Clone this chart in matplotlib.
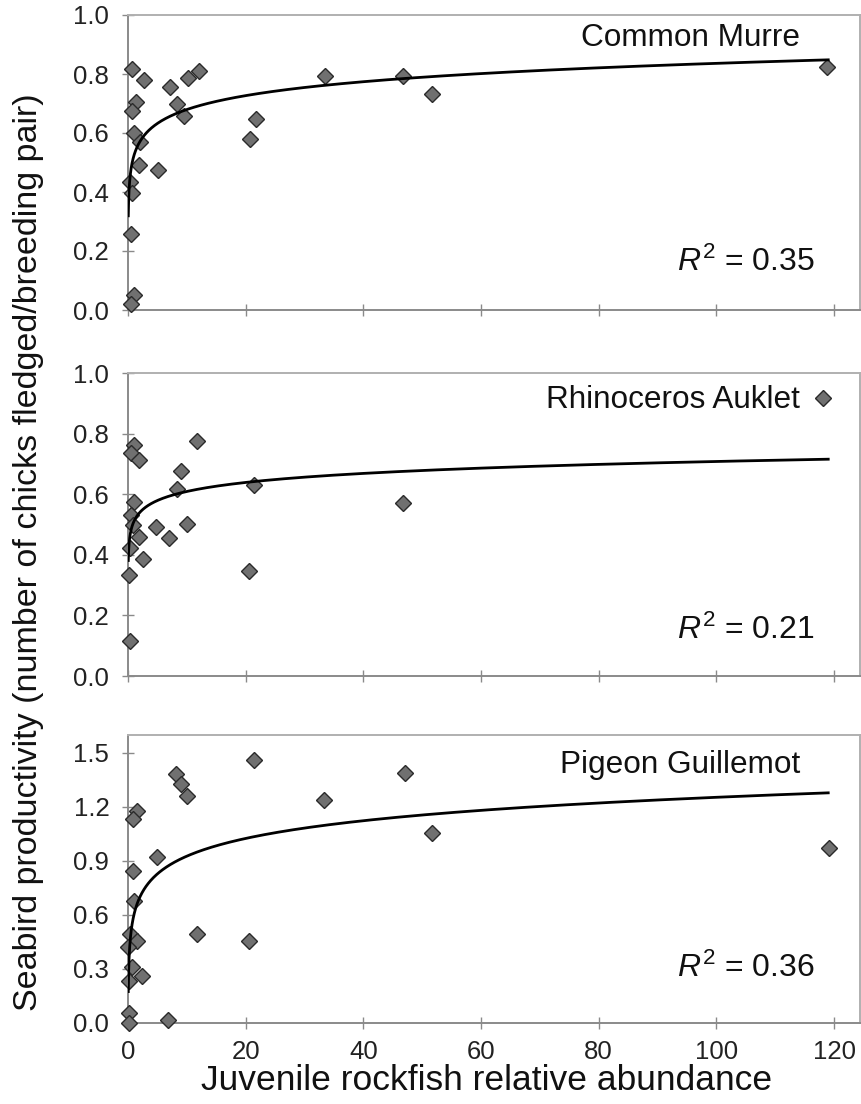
import numpy as np
import matplotlib
matplotlib.use("Agg")
import matplotlib.pyplot as plt

plt.rcParams["font.family"] = ["Liberation Sans", "DejaVu Sans"]
plt.rcParams["mathtext.fontset"] = "custom"
plt.rcParams["mathtext.rm"] = "Liberation Sans"
plt.rcParams["mathtext.it"] = "Liberation Sans:italic"

# Common Murre
murre_x = [0.63, 2.77, 1.31, 0.73, 1.02, 2.04, 1.92, 5.15, 0.34, 0.63, 0.51, 1.07,
           0.46, 7.14, 10.25, 12.07, 8.38, 9.52, 20.74, 21.76, 33.49, 46.80, 51.73, 118.77]
murre_y = [0.817, 0.780, 0.706, 0.675, 0.600, 0.571, 0.492, 0.475, 0.435, 0.398, 0.258, 0.051,
           0.020, 0.755, 0.787, 0.811, 0.697, 0.659, 0.579, 0.646, 0.794, 0.793, 0.732, 0.825]

# Rhinoceros Auklet
auklet_x = [0.95, 0.45, 1.95, 11.8, 9.0, 8.3, 21.4, 46.7, 1.1, 0.45, 0.85, 1.8,
            4.8, 7.0, 10.0, 0.3, 2.5, 0.1, 20.6, 0.3, 118.1]
auklet_y = [0.762, 0.735, 0.713, 0.777, 0.677, 0.616, 0.630, 0.570, 0.575, 0.531, 0.498, 0.460,
            0.493, 0.454, 0.502, 0.421, 0.386, 0.333, 0.348, 0.117, 0.916]

# Pigeon Guillemot
guill_x = [21.4, 8.1, 8.95, 10.1, 33.3, 47.0, 1.6, 0.85, 4.9, 0.85, 1.0, 11.8,
           20.6, 0.35, 1.6, 0.05, 0.75, 2.45, 0.2, 0.2, 0.2, 6.8, 51.7, 119.1]
guill_y = [1.459, 1.385, 1.326, 1.261, 1.237, 1.391, 1.178, 1.136, 0.923, 0.845, 0.677, 0.492,
           0.457, 0.497, 0.457, 0.423, 0.311, 0.259, 0.235, 0.057, 0.0, 0.015, 1.056, 0.975]

species = ["Common Murre", "Rhinoceros Auklet", "Pigeon Guillemot"]
r2_labels = ["0.35", "0.21", "0.36"]
# logarithmic trend lines y = a*ln(x) + b
trend_a = [0.068, 0.043, 0.142]
trend_b = [0.523, 0.510, 0.600]
trend_xrange = [0.05, 119.0]

y_max = [1.0, 1.0, 1.6]
y_ticks = [np.arange(0, 1.01, 0.2), np.arange(0, 1.01, 0.2), np.arange(0, 1.51, 0.3)]
x_ticks = [0, 20, 40, 60, 80, 100, 120]

W, H = 861, 1104
fig = plt.figure(figsize=(W / 100, H / 100), dpi=100)

# axes boxes in pixels: (top, bottom)
boxes = [(15, 310), (373, 676), (735, 1023)]
left_px, right_px = 128, 860

data = [(murre_x, murre_y), (auklet_x, auklet_y), (guill_x, guill_y)]
title_y = [0.922, 0.911, 0.896]
r2_y = [0.163, 0.152, 0.19]

for i, ((top, bot), (xs, ys)) in enumerate(zip(boxes, data)):
    ax = fig.add_axes([left_px / W, 1 - bot / H, (right_px - left_px) / W, (bot - top) / H])
    ax.set_xlim(0, 124.4)
    ax.set_ylim(0, y_max[i])

    xx = np.geomspace(trend_xrange[0], trend_xrange[1], 400)
    ax.plot(xx, trend_a[i] * np.log(xx) + trend_b[i], color="black", lw=2.0, zorder=4)
    ax.plot(xs, ys, "D", ms=8, mfc="#707070", mec="#2a2a2a", mew=1.0,
            clip_on=False, zorder=3)

    for side in ["top", "right"]:
        ax.spines[side].set_color("#b0b0b0")
        ax.spines[side].set_linewidth(1.4)
    for side in ["left", "bottom"]:
        ax.spines[side].set_color("#8a8a8a")
        ax.spines[side].set_linewidth(1.4)

    ax.set_yticks(y_ticks[i])
    ax.set_yticklabels([f"{v:.1f}" for v in y_ticks[i]])
    ax.set_xticks(x_ticks)
    if i < 2:
        ax.set_xticklabels([])
    ax.tick_params(direction="inout", length=9, width=1.0, color="#8a8a8a",
                   labelsize=18.5, labelcolor="#222222")
    ax.tick_params(axis="y", pad=9)
    ax.tick_params(axis="x", pad=8)

    ax.text(0.918, title_y[i], species[i], transform=ax.transAxes, ha="right",
            va="center", fontsize=22.7, color="#111111")
    ax.text(0.938, r2_y[i], r"$R^2$ = " + r2_labels[i], transform=ax.transAxes,
            ha="right", va="center", fontsize=23, color="#111111")

fig.text(0.033, 0.5, "Seabird productivity (number of chicks fledged/breeding pair)",
         rotation=90, ha="center", va="center", fontsize=24.5, color="#111111")
fig.text(487 / W, 1 - 1080 / H, "Juvenile rockfish relative abundance",
         ha="center", va="center", fontsize=25.5, color="#111111")

fig.savefig("out.png", dpi=100)
